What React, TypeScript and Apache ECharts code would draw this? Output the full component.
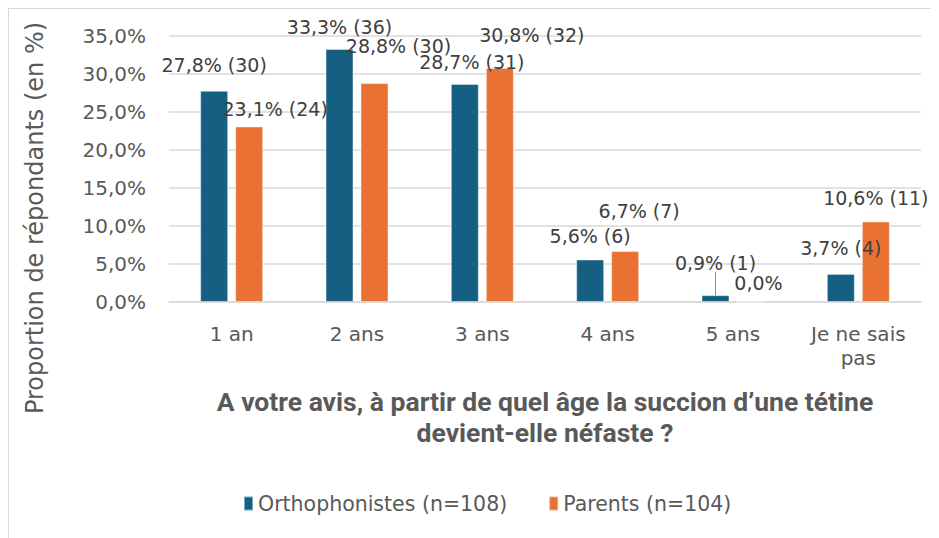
import React, { useEffect, useRef } from "react";
import * as echarts from "echarts";

const categories = ["1 an", "2 ans", "3 ans", "4 ans", "5 ans", "Je ne sais\npas"];
const orthoPct = [27.8, 33.3, 28.7, 5.6, 0.9, 3.7];
const orthoCount = [30, 36, 31, 6, 1, 4];
const parentPct = [23.1, 28.8, 30.8, 6.7, 0.0, 10.6];
const parentCount = [24, 30, 32, 7, 0, 11];
const seriesNames = ["Orthophonistes (n=108)", "Parents (n=104)"];
const yMin = 0;
const yMax = 35;
const yInterval = 5;

// label nudges [dx, dy] (Excel manually-placed labels)
const orthoNudge = [[0, -11], [0, -7], [7, -7], [0, -9], [0, -18], [0, -11]];
const parentNudge = [[26, -3], [24, -23], [32, -18], [14, -26], [8, -4], [0, -9]];

const fmt = (v: number) => v.toFixed(1).replace(".", ",") + "%";
const FONT = "DejaVu Sans";
const AXIS_COLOR = "#595959";

export default function App() {
  const ref = useRef<HTMLDivElement>(null);
  useEffect(() => {
    if (!ref.current) return;
    const chart = echarts.init(ref.current, null, { renderer: "svg" });
    const nudges = [orthoNudge, parentNudge];
    const mkData = (pct: number[], cnt: number[], showLine: boolean) =>
      pct.map((v, i) => {
        const item: any = { value: v, count: cnt[i] };
        if (showLine && i === 4) item.labelLine = { show: true, lineStyle: { color: "#8c8c8c", width: 1 } };
        return item;
      });
    const labelCfg = {
      show: true,
      position: "top",
      distance: 5,
      fontFamily: FONT,
      fontSize: 19,
      color: "#404040",
      formatter: (p: any) => {
        const c = p.data.count;
        return c > 0 ? `${fmt(p.value)} (${c})` : fmt(p.value);
      },
    };
    chart.setOption({
      animation: false,
      textStyle: { fontFamily: FONT },
      grid: { left: 160, top: 27, width: 752, height: 266 },
      legend: {
        left: 234,
        top: 484,
        padding: 0,
        itemWidth: 9,
        itemHeight: 14,
        itemGap: 41,
        icon: "rect",
        textStyle: { fontFamily: FONT, fontSize: 20.5, color: AXIS_COLOR },
        data: seriesNames,
      },
      xAxis: {
        type: "category",
        data: categories,
        axisTick: { show: false },
        axisLine: { lineStyle: { color: "#d9d9d9", width: 1.5 } },
        axisLabel: { fontFamily: FONT, fontSize: 20, color: AXIS_COLOR, margin: 20, lineHeight: 24 },
        name: "A votre avis, à partir de quel âge la succion d’une tétine\ndevient-elle néfaste ?",
        nameLocation: "middle",
        nameGap: 84,
        nameTextStyle: {
          fontFamily: "Roboto",
          fontWeight: "bold",
          fontSize: 26.5,
          lineHeight: 31,
          color: AXIS_COLOR,
        },
      },
      yAxis: {
        type: "value",
        min: yMin,
        max: yMax,
        interval: yInterval,
        axisLine: { show: false },
        axisTick: { show: false },
        splitLine: { lineStyle: { color: "#d9d9d9", width: 1.5 } },
        axisLabel: { fontFamily: FONT, fontSize: 20, color: AXIS_COLOR, margin: 23, formatter: (v: number) => fmt(v) },
      },
      graphic: [
        {
          type: "text",
          x: 26,
          y: 209,
          rotation: Math.PI / 2,
          style: {
            text: "Proportion de répondants (en %)",
            fontFamily: FONT,
            fontSize: 24,
            fill: AXIS_COLOR,
            textAlign: "center",
            textVerticalAlign: "middle",
          },
        },
      ],
      series: [
        {
          name: seriesNames[0],
          type: "bar",
          barWidth: 28,
          barGap: "25%",
          itemStyle: { color: "#156082", borderColor: "rgba(255,255,255,0.45)", borderWidth: 1 },
          label: labelCfg,
          labelLayout: (p: any) => ({ dx: nudges[0][p.dataIndex][0], dy: nudges[0][p.dataIndex][1] }),
          data: mkData(orthoPct, orthoCount, true),
        },
        {
          name: seriesNames[1],
          type: "bar",
          barWidth: 28,
          barGap: "25%",
          itemStyle: { color: "#E97132", borderColor: "rgba(255,255,255,0.45)", borderWidth: 1 },
          label: labelCfg,
          labelLayout: (p: any) => ({ dx: nudges[1][p.dataIndex][0], dy: nudges[1][p.dataIndex][1] }),
          data: mkData(parentPct, parentCount, false),
        },
      ],
    });
    return () => chart.dispose();
  }, []);
  return (
    <div style={{ width: 939, height: 538, border: "1px solid #d9d9d9", boxSizing: "border-box" }}>
      <div ref={ref} style={{ width: 937, height: 536 }} />
    </div>
  );
}
